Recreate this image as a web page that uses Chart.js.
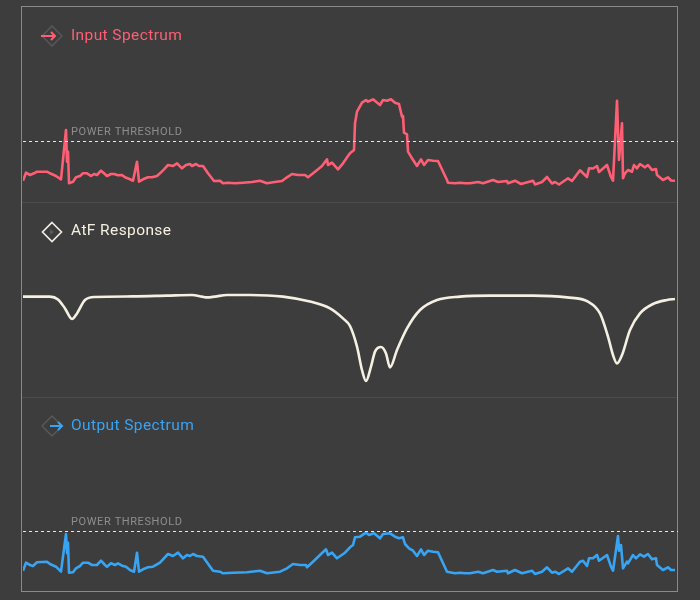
<!DOCTYPE html>
<html>
<head>
<meta charset="utf-8">
<script src="https://cdn.jsdelivr.net/npm/chart.js@4.4.1/dist/chart.umd.min.js"></script>
<style>
  html, body { margin: 0; padding: 0; background: #3d3d3d; }
  body { width: 700px; height: 600px; position: relative; overflow: hidden; font-family: Roboto, "Noto Sans", sans-serif; }
  .frame { position: absolute; left: 21px; top: 6px; width: 655px; height: 584px; border: 1px solid #8a8a8a; }
  .sep { position: absolute; left: 22px; width: 655px; height: 1px; background: #4c4c4c; }
  canvas { position: absolute; left: 22px; }
  .title { position: absolute; left: 71px; font-size: 15.5px; letter-spacing: 0.4px; }
  .icon { position: absolute; left: 40px; }
</style>
</head>
<body>
<div class="frame"></div>
<div class="sep" style="top:202px"></div>
<div class="sep" style="top:397px"></div>

<canvas id="inputChart" width="656" height="195" style="top:7px"></canvas>
<canvas id="atfChart" width="656" height="194" style="top:203px"></canvas>
<canvas id="outputChart" width="656" height="193" style="top:398px"></canvas>

<svg class="icon" style="top:24px" width="24" height="24" viewBox="0 0 24 24">
  <path d="M12 2 L22 12 L12 22 L2 12 Z" fill="none" stroke="#5a5a5a" stroke-width="1.3"/>
  <path d="M1 12 H15 M11 8 L15 12 L11 16" fill="none" stroke="#ff5f74" stroke-width="2"/>
</svg>
<div class="title" style="top:26px;color:#ff5f74">Input Spectrum</div>

<svg class="icon" style="top:220px" width="24" height="24" viewBox="0 0 24 24">
  <path d="M12 2.5 L21.5 12 L12 21.5 L2.5 12 Z" fill="none" stroke="#f4f0e2" stroke-width="1.6"/>
  <path d="M10 9 L14 12 L10 15 Z" fill="#5a5a5a"/>
</svg>
<div class="title" style="top:221px;color:#f4f0e2">AtF Response</div>

<svg class="icon" style="top:414px" width="24" height="24" viewBox="0 0 24 24">
  <path d="M12 2 L22 12 L12 22 L2 12 Z" fill="none" stroke="#5a5a5a" stroke-width="1.3"/>
  <path d="M10 12 H22 M18 8 L22 12 L18 16" fill="none" stroke="#38a4f4" stroke-width="2"/>
</svg>
<div class="title" style="top:416px;color:#38a4f4">Output Spectrum</div>

<script>
// frequency bins 0..652, power in arbitrary units
const threshold = 49;

const inputFreq = [0, 3, 7, 11, 14, 24, 27, 33, 38, 43, 44, 45, 46, 50, 53, 57, 60, 64, 68, 71,
  74, 78, 81, 84, 88, 91, 95, 99, 102, 107, 110, 114, 116, 120, 125, 129, 134, 137, 141, 145,
  150, 154, 159, 163, 167, 169, 173, 176, 180, 185, 191, 197, 200, 205, 212, 220, 229, 237, 244, 250,
  259, 264, 269, 275, 282, 285, 292, 299, 304, 305, 309, 315, 320, 325, 327, 331, 332, 334, 339, 343,
  345, 350, 357, 360, 364, 368, 372, 376, 377, 379, 380, 381, 384, 385, 389, 394, 398, 401, 405, 410,
  415, 424, 425, 432, 437, 442, 447, 455, 460, 470, 475, 484, 485, 492, 498, 510, 512, 519, 524, 529,
  532, 536, 545, 549, 557, 564, 566, 570, 574, 576, 584, 588, 590, 594, 596, 599, 600, 602, 605, 609,
  611, 614, 617, 622, 625, 629, 633, 634, 640, 645, 648, 652];
const inputPower = [9.3, 17.3, 15, 16.7, 18.3, 18.3, 16.7, 14, 10.7, 60, 28.3, 38.3, 6.7, 8.3, 12.7, 14, 16.7, 16.7, 14, 16,
  15, 19.3, 16.7, 14, 16, 16, 14.7, 15, 12.7, 10.7, 9.3, 28.3, 8.3, 10.7, 12.7, 12.7, 14, 16.7, 20.7, 25,
  24, 26.7, 21.7, 25, 26, 24, 26, 24, 24, 16.7, 9, 9.3, 6.7, 7.3, 6.7, 7.3, 8, 9.3, 6.7, 7.7,
  9, 12.7, 16, 15, 15, 12.7, 18.3, 24, 30.7, 25, 27.3, 20.7, 26.7, 34, 36.7, 40, 66.7, 78.3, 87.3, 90,
  88.3, 90.7, 85, 90, 89.3, 90.7, 87.3, 86, 81.7, 73.3, 74, 57.3, 55.7, 38.3, 31.7, 24, 30.7, 25, 30, 29.3,
  29, 10, 7.3, 6.7, 7.3, 6.7, 6.7, 8, 6.7, 10, 8, 9, 6.7, 9.3, 6, 9.3, 5.5, 8, 13, 6.5,
  8, 5.5, 11.7, 9, 19.7, 13, 21.7, 21.5, 24, 18, 25, 13, 9.3, 89.3, 30, 66.7, 11.7, 16.7, 20, 18.3,
  25, 21.7, 26, 22.7, 25, 20, 21, 15, 10, 12.7, 9.5, 9.3];

const atfFreq = [0, 27, 35, 42, 49, 54, 62, 72, 110, 144, 169, 179, 184, 192, 204, 227, 260, 287, 307, 320,
  327, 334, 339, 343, 348, 352, 358, 363, 367, 374, 384, 397, 414, 437, 467, 510, 544, 565, 577, 585,
  590, 594, 599, 607, 617, 630, 644, 652];
const atfGain = [-0.3, -0.3, -1.7, -6.2, -11.5, -8.7, -2.0, -0.5, -0.2, 0.2, 0.5, -0.3, -0.7, -0.3, 0.5, 0.5, -0.3, -2.8, -6.2, -11.2,
  -15.0, -25.3, -37.0, -42.5, -35.3, -27.8, -25.5, -28.7, -35.7, -27.0, -16.2, -7.0, -2.0, -0.3, 0.2, 0.2, -0.7, -2.8, -8.7, -20.3,
  -29.5, -33.7, -29.5, -17.0, -8.7, -4.0, -2.0, -1.5];

const outputFreq = [0, 3, 7, 10, 14, 24, 27, 33, 38, 43, 44, 45, 46, 50, 53, 57, 60, 65, 69, 74,
  78, 82, 84, 88, 92, 95, 99, 103, 107, 111, 114, 116, 120, 125, 130, 137, 145, 150, 155, 160,
  164, 167, 170, 174, 180, 190, 197, 200, 210, 224, 237, 244, 257, 264, 270, 277, 283, 284, 290, 297,
  303, 305, 309, 314, 322, 327, 330, 332, 337, 343, 346, 351, 357, 360, 367, 372, 376, 380, 382, 386,
  390, 394, 398, 401, 405, 410, 415, 424, 432, 437, 442, 447, 455, 460, 470, 474, 484, 485, 492, 499,
  509, 512, 519, 524, 529, 532, 536, 545, 549, 557, 560, 564, 566, 570, 574, 576, 584, 588, 590, 593,
  595, 596, 598, 600, 604, 605, 610, 613, 617, 621, 625, 629, 633, 634, 640, 645, 648, 652];
const outputPower = [9.3, 17.3, 15, 14, 17.7, 18.3, 16, 13.3, 8.3, 46, 26.7, 37.3, 7.3, 7.7, 11.7, 14, 17.3, 17.3, 15, 15,
  19.3, 15, 13.3, 16.7, 15, 16.7, 14.3, 13.3, 10, 8.3, 27.3, 8.3, 10.7, 12.7, 13.3, 17.3, 26, 24, 27.3, 21.7,
  25, 24, 26, 24, 23.3, 9.3, 8.3, 6.7, 7.3, 7.7, 9.3, 6.7, 8.3, 11.7, 16, 15, 15, 12.7, 18.3, 25,
  30.7, 25, 27.3, 21.7, 27.3, 32.7, 35, 42.7, 43.3, 47.3, 45, 46.7, 41.7, 46, 46.7, 43.3, 41.7, 42.7, 36, 31.7,
  29.3, 24, 30.7, 25, 29.3, 28.3, 27.7, 8.3, 6.7, 7.3, 6.7, 6.7, 8.3, 6.7, 10, 8.3, 9.3, 6.7, 10, 6.7,
  9.3, 6, 8.3, 12.7, 7.3, 8.3, 6, 11.7, 8.3, 18.3, 19.3, 14, 21.7, 21.7, 25, 19.3, 25, 13.3, 9.3, 30,
  44, 29.3, 35, 11.7, 18.3, 16.7, 25, 21.7, 25.7, 23.3, 26, 20.7, 21.7, 15, 10, 12.7, 10, 10];

function toPoints(xs, ys) {
  return xs.map((x, i) => ({ x: x, y: ys[i] }));
}

const thresholdLine = {
  id: "thresholdLine",
  afterDatasetsDraw(chart, args, opts) {
    if (!opts.show) return;
    const ctx = chart.ctx;
    const y = Math.round(chart.scales.y.getPixelForValue(threshold)) + 0.5;
    ctx.save();
    ctx.strokeStyle = "#e6e6e6";
    ctx.lineWidth = 1;
    ctx.setLineDash([3, 3]);
    ctx.beginPath();
    ctx.moveTo(chart.chartArea.left, y);
    ctx.lineTo(chart.width, y);
    ctx.stroke();
    ctx.setLineDash([]);
    ctx.fillStyle = "#8e8e8e";
    ctx.font = "11px Roboto, 'Noto Sans', sans-serif";
    ctx.letterSpacing = "0.6px";
    ctx.textBaseline = "alphabetic";
    ctx.fillText("POWER THRESHOLD", chart.chartArea.left + 48, y - 7);
    ctx.restore();
  },
};

function makeChart(id, xs, ys, color, yMin, yMax, smooth, showThreshold) {
  return new Chart(document.getElementById(id), {
    type: "line",
    data: {
      datasets: [
        {
          data: toPoints(xs, ys),
          borderColor: color,
          borderWidth: 2.6,
          pointRadius: 0,
          tension: smooth ? 0.4 : 0,
          cubicInterpolationMode: smooth ? "monotone" : "default",
          borderJoinStyle: "round",
          fill: false,
        },
      ],
    },
    options: {
      responsive: false,
      animation: false,
      layout: { padding: { left: 1, right: 3, top: 0, bottom: 0 } },
      scales: {
        x: { type: "linear", display: false, min: 0, max: 652 },
        y: { display: false, min: yMin, max: yMax },
      },
      plugins: {
        legend: { display: false },
        tooltip: { enabled: false },
        thresholdLine: { show: showThreshold },
      },
    },
    plugins: [thresholdLine],
  });
}

const inputChart = makeChart("inputChart", inputFreq, inputPower, "#ff5f74", -12, 183, false, true);
const atfChart = makeChart("atfChart", atfFreq, atfGain, "#f4f0e2", -50.5, 46.5, true, false);
const outputChart = makeChart("outputChart", outputFreq, outputPower, "#38a4f4", -11, 182, false, true);
</script>
</body>
</html>
